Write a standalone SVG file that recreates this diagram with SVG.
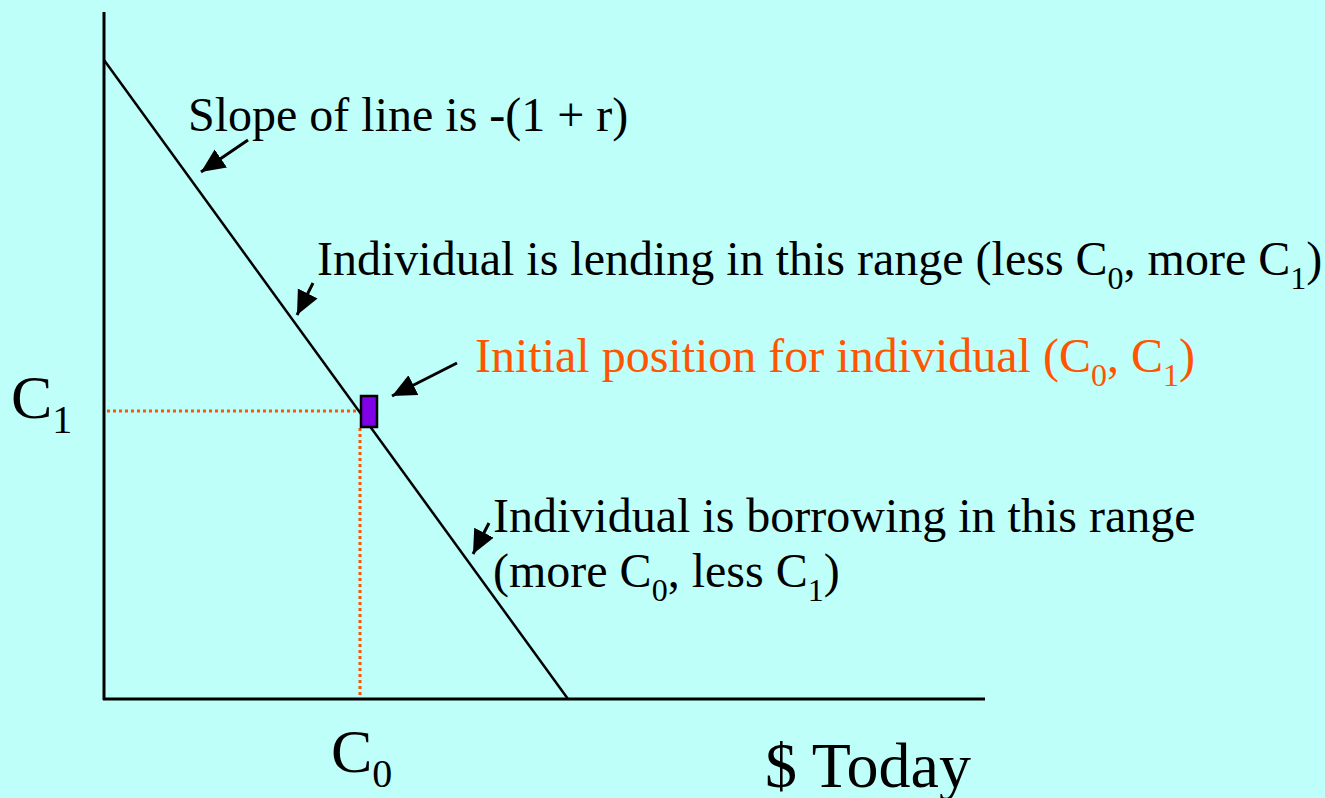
<svg xmlns="http://www.w3.org/2000/svg" width="1325" height="798" viewBox="0 0 1325 798">
<defs>
<style>
text{font-family:'Liberation Serif','Times New Roman',Times,serif;fill:#000}
.t{font-size:48px}
.big{font-size:62px}
.huge{font-size:64px}
.or{fill:#FF5500}
.ax{stroke:#000;stroke-width:3;fill:none}
.ln{stroke:#000;stroke-width:2.5;fill:none}
.dot{stroke:#FF5500;stroke-width:3;stroke-dasharray:3 3;fill:none}
.arr{stroke:#000;stroke-width:3;fill:none;marker-end:url(#ah)}
</style>
<marker id="ah" markerUnits="userSpaceOnUse" markerWidth="26" markerHeight="24" refX="24" refY="11" orient="auto">
<path d="M0,0 L24,11 L0,22 Z" fill="#000"/>
</marker>
</defs>
<rect width="1325" height="798" fill="#BFFFFA"/>
<g id="axes">
<line class="ax" x1="104" y1="12" x2="104" y2="700"/>
<line class="ax" x1="103" y1="699" x2="985" y2="699"/>
</g>
<g id="guides">
<line class="dot" x1="107" y1="411" x2="361" y2="411"/>
<line class="dot" x1="360" y1="428" x2="360" y2="698"/>
</g>
<g id="budget-line">
<line class="ln" x1="104" y1="60" x2="568" y2="699"/>
</g>
<g id="point">
<rect x="361" y="396" width="16" height="31" fill="#8000E8" stroke="#000" stroke-width="2.5"/>
</g>
<g id="connectors">
<line class="arr" x1="248" y1="140" x2="201" y2="172"/>
<line class="arr" x1="313" y1="283" x2="297" y2="315"/>
<line class="arr" x1="457" y1="363" x2="392" y2="396"/>
<line class="arr" x1="489" y1="523" x2="473" y2="554"/>
</g>
<g id="label-slope">
<text class="t" x="188" y="131">Slope of line is -(1 + r)</text>
</g>
<g id="label-lending">
<text class="t" x="317" y="275">Individual is lending in this range (less C<tspan font-size="32" dy="14">0</tspan><tspan dy="-14">, more C</tspan><tspan font-size="32" dy="14">1</tspan><tspan dy="-14">)</tspan></text>
</g>
<g id="label-initial">
<text class="t or" x="475" y="372">Initial position for individual (C<tspan font-size="32" dy="14">0</tspan><tspan dy="-14">, C</tspan><tspan font-size="32" dy="14">1</tspan><tspan dy="-14">)</tspan></text>
</g>
<g id="label-borrowing">
<text class="t" x="493" y="532">Individual is borrowing in this range</text>
<text class="t" x="493" y="587">(more C<tspan font-size="32" dy="14">0</tspan><tspan dy="-14">, less C</tspan><tspan font-size="32" dy="14">1</tspan><tspan dy="-14">)</tspan></text>
</g>
<g id="label-c1">
<text class="big" x="11" y="418">C<tspan font-size="40" dy="15">1</tspan></text>
</g>
<g id="label-c0">
<text class="big" x="331" y="772">C<tspan font-size="40" dy="15">0</tspan></text>
</g>
<g id="label-today">
<text class="huge" x="765" y="787">$ Today</text>
</g>
</svg>
